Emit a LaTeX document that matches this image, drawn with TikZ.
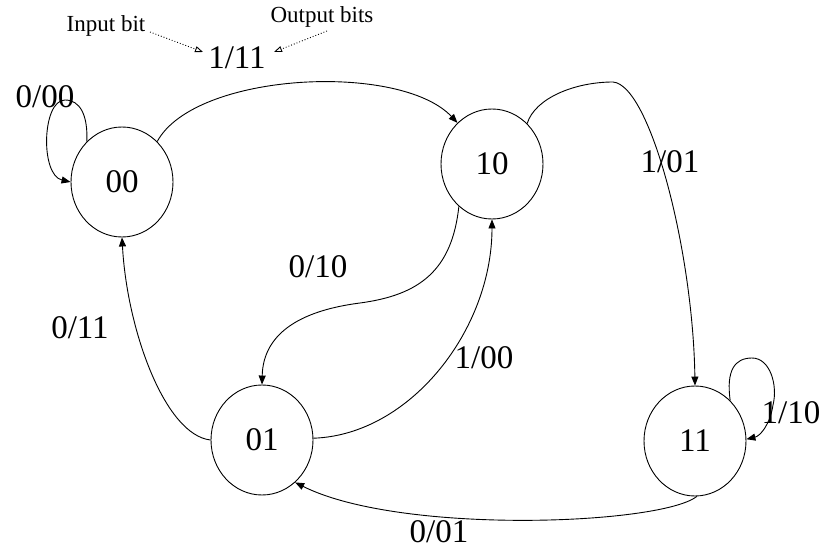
\documentclass[tikz,border=0pt]{standalone}
\usepackage{fontspec}
\setmainfont{Liberation Serif}
\usetikzlibrary{arrows.meta,shapes.geometric}
\tikzset{
  state/.style={ellipse, draw, line width=0.9pt, inner sep=0pt,
    minimum width=102pt, minimum height=110pt,
    font=\fontsize{33}{36}\selectfont},
  trans/.style={draw, line width=0.9pt,
    -{Triangle[length=9pt,width=7pt]}},
  lbl/.style={inner sep=0pt, font=\fontsize{33}{36}\selectfont},
  note/.style={inner sep=0pt, font=\fontsize{23}{26}\selectfont},
  hint/.style={draw, dotted, line width=0.9pt,
    -{Triangle[open,length=8pt,width=6pt]}}
}
\begin{document}
\begin{tikzpicture}[x=1pt,y=-1pt]
\useasboundingbox (0,0) rectangle (823,551);

% states
\node[state] (s00) at (122,182) {00};
\node[state] (s10) at (492,164) {10};
\node[state] (s01) at (262,440) {01};
\node[state] (s11) at (695,441) {11};

% legend above the diagram
\node[note] (inbit) at (106,26) {Input bit};
\node[note] (outbits) at (322,17) {Output bits};
\node[lbl] (ex) at (237,58) {1/11};
\draw[hint] (150,32) coordinate (ia) -- (203,52) coordinate (ib);
\draw[hint] (327,31) coordinate (oa) -- (274,52) coordinate (ob);

% transitions
\draw[trans] (s00.131) .. controls (88,115) and (80,100) .. (65,100)
  .. controls (42,100) and (40,175) .. (s00.180);
\draw[trans] (s00.49) .. controls (195,72) and (400,62) .. (s10.130);
\draw[trans] (s10.49) .. controls (535,98) and (575,82) .. (613,82)
  .. controls (650,85) and (693,250) .. (s11.90);
\draw[trans] (s10.232) .. controls (452,270) and (420,295) .. (360,303)
  .. controls (290,312) and (263,340) .. (s01.90);
\draw[trans] (s01.2) .. controls (410,435) and (492,330) .. (s10.270);
\draw[trans] (s01.180) .. controls (165,435) and (127,330) .. (s00.270);
\draw[trans] (s11.272) .. controls (660,525) and (400,535) .. (s01.-52);
\draw[trans] (s11.49) .. controls (726,370) and (735,358) .. (752,358)
  .. controls (770,358) and (778,385) .. (773,405)
  .. controls (770,425) and (760,436) .. (s11.2);

% transition labels
\node[lbl] (l0000) at (45,97) {0/00};
\node[lbl] (l101) at (670,162) {1/01};
\node[lbl] (l010) at (318,267) {0/10};
\node[lbl] (l100) at (484,358) {1/00};
\node[lbl] (l011) at (80,328) {0/11};
\node[lbl] (l001) at (439,532) {0/01};
\node[lbl] (l110) at (791,413) {1/10};
\end{tikzpicture}
\end{document}
